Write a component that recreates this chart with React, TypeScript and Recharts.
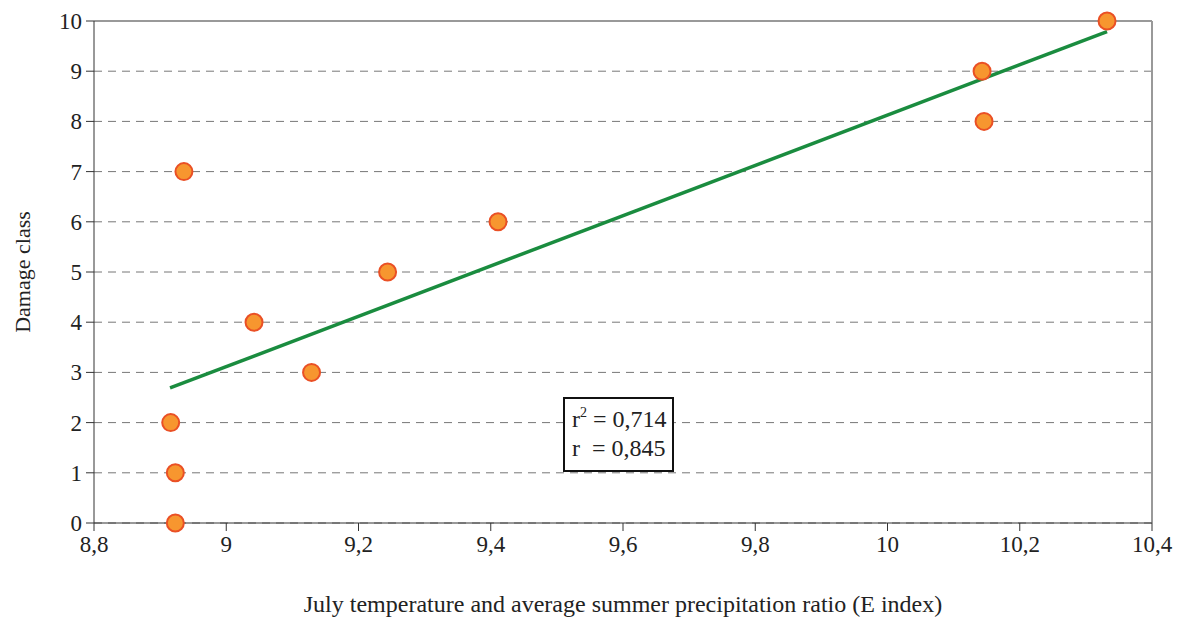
import React from "react";
import {
  ScatterChart,
  Scatter,
  XAxis,
  YAxis,
  CartesianGrid,
  ReferenceLine,
} from "recharts";

// E index vs damage class
const eIndex = [8.923, 8.923, 8.916, 9.129, 9.042, 9.244, 9.411, 8.936, 10.146, 10.143, 10.332];
const damageClass = [0, 1, 2, 3, 4, 5, 6, 7, 8, 9, 10];

// fitted line end points
const trendX = [8.915, 10.332];
const trendY = [2.69, 9.79];

const xTicks = [8.8, 9, 9.2, 9.4, 9.6, 9.8, 10, 10.2, 10.4];
const yTicks = [0, 1, 2, 3, 4, 5, 6, 7, 8, 9, 10];

const points = eIndex.map((x, i) => ({ x, y: damageClass[i] }));
const trend = trendX.map((x, i) => ({ x, y: trendY[i] }));

const font = "'Liberation Serif', 'Times New Roman', serif";
const fmt = (v: number) => String(v).replace(".", ",");

const Dot = (props: any) => (
  <circle cx={props.cx} cy={props.cy} r={8.5} fill="#F7962F" stroke="#EA5025" strokeWidth={2} />
);

const XTick = ({ x, y, payload }: any) => (
  <text x={x} y={y + 19} textAnchor="middle" fill="#222" style={{ fontFamily: font, fontSize: 23 }}>
    {fmt(payload.value)}
  </text>
);

const YTick = ({ x, y, payload }: any) => (
  <text x={x - 2} y={y + 8} textAnchor="end" fill="#222" style={{ fontFamily: font, fontSize: 23 }}>
    {payload.value}
  </text>
);

const YLabel = ({ viewBox }: any) => {
  const cy = viewBox.y + viewBox.height / 2;
  return (
    <text x={30} y={cy} transform={`rotate(-90 30 ${cy})`} textAnchor="middle" fill="#222" style={{ fontFamily: font, fontSize: 22 }}>
      Damage class
    </text>
  );
};

const XLabel = ({ viewBox }: any) => (
  <text x={viewBox.x + viewBox.width / 2} y={612} textAnchor="middle" fill="#222" style={{ fontFamily: font, fontSize: 24 }}>
    July temperature and average summer precipitation ratio (E index)
  </text>
);

export default function App() {
  return (
    <div style={{ position: "absolute", left: 0, top: 0, width: 1182, height: 619, background: "#fff", fontFamily: font }}>
      <ScatterChart width={1182} height={619} margin={{ top: 21, right: 30, bottom: 18, left: 34 }} style={{ fontFamily: font }}>
        <CartesianGrid vertical={false} stroke="#777" strokeDasharray="8 6" />
        <XAxis
          type="number"
          dataKey="x"
          domain={[8.8, 10.4]}
          ticks={xTicks}
          allowDataOverflow
          height={78}
          stroke="#333"
          tickSize={8}
          tick={<XTick />}
          label={<XLabel />}
        />
        <YAxis
          type="number"
          dataKey="y"
          domain={[0, 10]}
          ticks={yTicks}
          width={60}
          stroke="#333"
          tickSize={8}
          tick={<YTick />}
          label={<YLabel />}
        />
        <ReferenceLine y={10} stroke="#999" strokeWidth={2} />
        <ReferenceLine x={10.4} stroke="#999" strokeWidth={2} />
        <Scatter data={trend} line={{ stroke: "#1A8C3F", strokeWidth: 3.5 }} shape={() => null} isAnimationActive={false} />
        <Scatter data={points} shape={Dot} isAnimationActive={false} />
      </ScatterChart>
      <div
        style={{
          position: "absolute",
          left: 563,
          top: 397,
          width: 111,
          height: 75,
          border: "2px solid #111",
          background: "#fff",
          fontFamily: font,
          fontSize: 24,
          lineHeight: "29px",
          padding: "6px 0 0 7px",
          boxSizing: "border-box",
          color: "#222",
          whiteSpace: "pre",
        }}
      >
        <div>r<sup style={{ fontSize: 14, verticalAlign: 10, lineHeight: 0 }}>2</sup> = 0,714</div>
        <div>r  = 0,845</div>
      </div>
    </div>
  );
}
